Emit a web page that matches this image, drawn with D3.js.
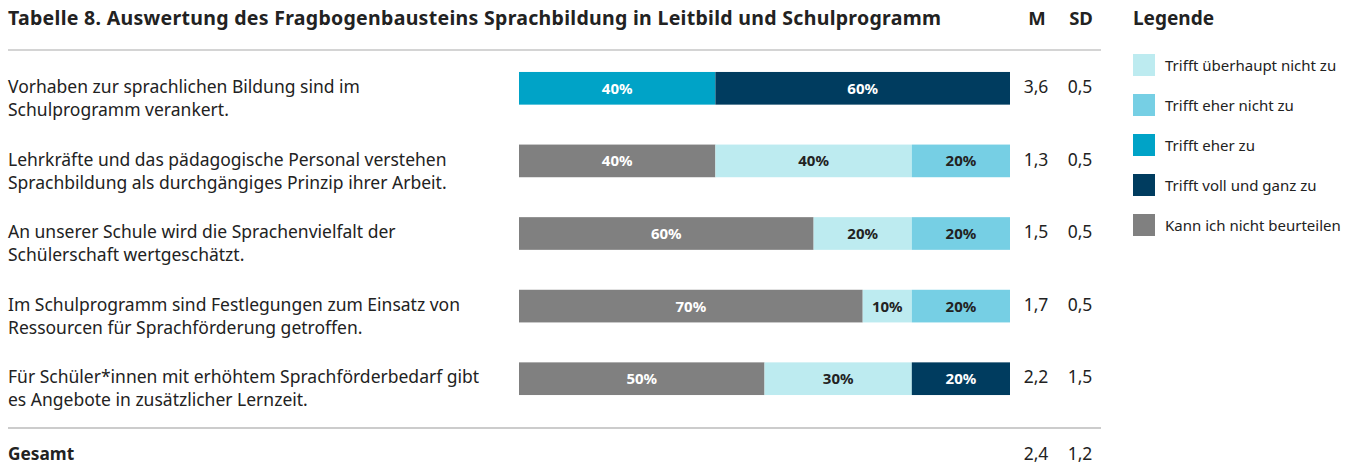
<!DOCTYPE html>
<html>
<head>
<meta charset="utf-8">
<script src="https://cdn.jsdelivr.net/npm/d3@7"></script>
<style>
  body { margin: 0; background: #fff; font-family: "Noto Sans", sans-serif; }
</style>
</head>
<body>
<svg id="chart"></svg>
<script>
// data
const title = "Tabelle 8. Auswertung des Fragbogenbausteins Sprachbildung in Leitbild und Schulprogramm";
const categories = ["Kann ich nicht beurteilen", "Trifft überhaupt nicht zu", "Trifft eher nicht zu", "Trifft eher zu", "Trifft voll und ganz zu"];
const legendOrder = ["Trifft überhaupt nicht zu", "Trifft eher nicht zu", "Trifft eher zu", "Trifft voll und ganz zu", "Kann ich nicht beurteilen"];
const colors = ["#808080", "#bdebf0", "#76cfe4", "#00a3c7", "#003c5f"];
const textColors = ["#fff", "#222", "#222", "#fff", "#fff"];
const items = [
  ["Vorhaben zur sprachlichen Bildung sind im", "Schulprogramm verankert."],
  ["Lehrkräfte und das pädagogische Personal verstehen", "Sprachbildung als durchgängiges Prinzip ihrer Arbeit."],
  ["An unserer Schule wird die Sprachenvielfalt der", "Schülerschaft wertgeschätzt."],
  ["Im Schulprogramm sind Festlegungen zum Einsatz von", "Ressourcen für Sprachförderung getroffen."],
  ["Für Schüler*innen mit erhöhtem Sprachförderbedarf gibt", "es Angebote in zusätzlicher Lernzeit."]
];
// percentages per category (order of `categories`)
const values = [
  [0, 0, 0, 40, 60],
  [40, 40, 20, 0, 0],
  [60, 20, 20, 0, 0],
  [70, 10, 20, 0, 0],
  [50, 30, 0, 0, 20]
];
const means = ["3,6", "1,3", "1,5", "1,7", "2,2"];
const sds = ["0,5", "0,5", "0,5", "0,5", "1,5"];
const totalLabel = "Gesamt";
const totalMean = "2,4";
const totalSd = "1,2";

const width = 1352, height = 473;
const svg = d3.select("#chart").attr("width", width).attr("height", height);

const x = d3.scaleLinear().domain([0, 100]).range([519, 1010]);
const y = d3.scaleBand().domain(d3.range(items.length)).range([52, 415]).paddingInner(0.55).paddingOuter(0.275);
const color = d3.scaleOrdinal().domain(categories).range(colors);

// header
svg.append("text").attr("x", 8).attr("y", 25)
  .attr("font-size", 19.5).attr("font-weight", 700).attr("fill", "#222")
  .attr("textLength", 933).attr("lengthAdjust", "spacing")
  .text(title);
svg.append("text").attr("x", 1037).attr("y", 25).attr("text-anchor", "middle")
  .attr("font-size", 18.5).attr("font-weight", 700).attr("fill", "#222").text("M");
svg.append("text").attr("x", 1081).attr("y", 25).attr("text-anchor", "middle")
  .attr("font-size", 18.5).attr("font-weight", 700).attr("fill", "#222").text("SD");

svg.append("line").attr("x1", 8).attr("x2", 1101).attr("y1", 50).attr("y2", 50)
  .attr("stroke", "#aaa").attr("stroke-width", 1.2);
svg.append("line").attr("x1", 8).attr("x2", 1101).attr("y1", 428).attr("y2", 428)
  .attr("stroke", "#999").attr("stroke-width", 1.2);

// rows
const stack = d3.stack().keys(d3.range(categories.length)).value((d, k) => d[k]);
const series = stack(values);

const rows = svg.append("g");
rows.selectAll("g.series")
  .data(series)
  .join("g")
  .attr("class", "series")
  .attr("fill", (s, i) => color(categories[i]))
  .selectAll("rect")
  .data(s => s.map((d, r) => ({ d, r, k: s.key })).filter(o => o.d[1] > o.d[0]))
  .join("rect")
  .attr("x", o => x(o.d[0]))
  .attr("width", o => x(o.d[1]) - x(o.d[0]))
  .attr("y", o => y(o.r))
  .attr("height", y.bandwidth());

rows.selectAll("g.lbls")
  .data(series)
  .join("g")
  .attr("class", "lbls")
  .selectAll("text")
  .data(s => s.map((d, r) => ({ d, r, k: s.key })).filter(o => o.d[1] > o.d[0]))
  .join("text")
  .attr("x", o => (x(o.d[0]) + x(o.d[1])) / 2)
  .attr("y", o => y(o.r) + y.bandwidth() / 2 + 5.5)
  .attr("text-anchor", "middle")
  .attr("font-size", 15).attr("font-weight", 700)
  .attr("fill", o => textColors[o.k])
  .text(o => (o.d[1] - o.d[0]) + "%");

items.forEach((lines, r) => {
  const t = svg.append("text").attr("x", 8).attr("font-size", 17.5).attr("fill", "#222");
  lines.forEach((l, j) => {
    t.append("tspan").attr("x", 8).attr("y", y(r) + 21 + j * 23).text(l);
  });
  svg.append("text").attr("x", 1036).attr("y", y(r) + 21).attr("text-anchor", "middle")
    .attr("font-size", 17.5).attr("fill", "#222").text(means[r]);
  svg.append("text").attr("x", 1080).attr("y", y(r) + 21).attr("text-anchor", "middle")
    .attr("font-size", 17.5).attr("fill", "#222").text(sds[r]);
});

// total
svg.append("text").attr("x", 8).attr("y", 460).attr("font-size", 17.3).attr("font-weight", 700)
  .attr("fill", "#222").text(totalLabel);
svg.append("text").attr("x", 1036).attr("y", 460).attr("text-anchor", "middle")
  .attr("font-size", 17.5).attr("fill", "#222").text(totalMean);
svg.append("text").attr("x", 1080).attr("y", 460).attr("text-anchor", "middle")
  .attr("font-size", 17.5).attr("fill", "#222").text(totalSd);

// legend
const legend = svg.append("g").attr("transform", "translate(1133,0)");
legend.append("text").attr("x", 0).attr("y", 25).attr("font-size", 19).attr("font-weight", 700)
  .attr("fill", "#222").text("Legende");
const li = legend.selectAll("g.item").data(legendOrder).join("g")
  .attr("class", "item")
  .attr("transform", (d, i) => `translate(0,${54 + i * 40})`);
li.append("rect").attr("width", 22).attr("height", 22).attr("fill", d => color(d));
li.append("text").attr("x", 32).attr("y", 16.5).attr("font-size", 15).attr("fill", "#222").text(d => d);
</script>
</body>
</html>
